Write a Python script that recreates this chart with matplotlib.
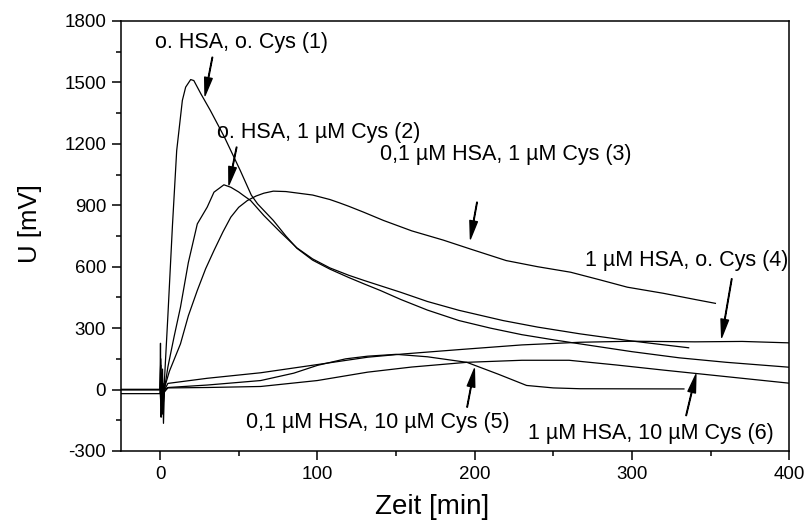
import matplotlib
matplotlib.use("Agg")
import matplotlib.pyplot as plt
from matplotlib.ticker import MultipleLocator

plt.rcParams['font.family'] = ['Liberation Sans', 'DejaVu Sans']
plt.rcParams['axes.unicode_minus'] = False

# Zeit [min] / U [mV] for each measurement
t1 = [-25, 0, 0.3, 0.7, 1.2, 1.8, 2.5, 5, 7.9, 10.6, 14.2, 16.3, 19.5, 21.5, 26, 32, 41, 51, 58, 62,
      72, 80, 87, 97, 108, 120, 130, 140, 153, 170, 190, 210, 230, 250, 267, 300, 330, 360, 400]
u1 = [0, 0, 226, -135, 80, -90, 0, 360, 800, 1167, 1412, 1477, 1514, 1509, 1444, 1363, 1232, 1070, 950, 907,
      826, 750, 690, 632, 588, 547, 515, 484, 440, 388, 337, 300, 268, 243, 223, 185, 155, 133, 109]

t2 = [-25, 0, 0.5, 1.0, 1.6, 2.2, 2.8, 5, 9, 13, 18, 23.7, 30, 34.3, 38, 40.6, 45, 50, 53, 57.6,
      66, 76.6, 87, 97, 108, 120, 130, 153, 170, 190, 218, 240, 267, 300, 336]
u2 = [0, 0, 150, -60, 100, -165, 0, 110, 260, 402, 620, 809, 891, 964, 985, 1000, 988, 965, 948, 923,
      850, 768, 692, 638, 594, 558, 532, 475, 430, 387, 337, 305, 272, 237, 204]

t3 = [-25, 0, 0.4, 0.9, 1.5, 2.0, 2.5, 6, 13, 18, 23.7, 29, 34.3, 40, 45, 50, 55.5, 61, 66, 72, 80,
      87, 97, 108, 114, 120, 129.5, 142, 160, 180, 197, 220, 240, 261, 280, 297, 320, 340, 353]
u3 = [0, 0, 120, -100, 60, -50, 0, 90, 223, 360, 484, 590, 679, 770, 842, 890, 923, 945, 959, 969, 967,
      960, 950, 928, 912, 895, 866, 826, 775, 730, 687, 630, 600, 573, 535, 500, 470, 440, 421]

t4 = [-25, 0, 0.5, 1.2, 2, 3, 5, 30, 64, 100, 132, 155, 190, 230, 267, 300, 340, 370, 400]
u4 = [0, 0, 60, -40, 20, 0, 30, 55, 82, 122, 158, 174, 195, 218, 231, 236, 233, 235, 228]

t5 = [-25, 0, 0.6, 1.4, 2.2, 3, 5, 30, 64, 85, 100, 118, 132, 150, 170, 195, 215, 233, 250, 267, 333]
u5 = [0, 0, -80, 50, -60, 0, 10, 22, 44, 80, 118, 150, 163, 172, 160, 133, 75, 20, 8, 4, 3]

t6 = [-25, 0, 0.8, 1.6, 2.4, 3, 5, 30, 64, 100, 132, 160, 195, 230, 260, 290, 320, 340, 370, 400]
u6 = [-20, -20, 40, -120, 30, -10, 8, 10, 15, 44, 85, 110, 133, 143, 143, 120, 95, 79, 55, 31]

# label text, text position, arrow tail, arrow head
labels = ["o. HSA, o. Cys (1)", "o. HSA, 1 µM Cys (2)", "0,1 µM HSA, 1 µM Cys (3)",
          "1 µM HSA, o. Cys (4)", "0,1 µM HSA, 10 µM Cys (5)", "1 µM HSA, 10 µM Cys (6)"]
label_pos = [(52, 1695), (101, 1257), (219.5, 1148), (335, 630), (138.5, -160), (312, -213)]
arrow_tail = [(33.3, 1623), (48.7, 1184), (201.5, 915), (363.4, 541), (195.2, -86), (334.4, -127)]
arrow_head = [(28.6, 1436), (43.8, 1000), (197.3, 736), (357, 255), (199.8, 101), (340.6, 73)]

fig = plt.figure(figsize=(8.11, 5.21), dpi=100)
ax = fig.add_axes([0.1488, 0.1344, 0.8245, 0.8253])

for t, u in [(t1, u1), (t2, u2), (t3, u3), (t4, u4), (t5, u5), (t6, u6)]:
    ax.plot(t, u, color='black', lw=0.9)

for txt, pos, tail, head in zip(labels, label_pos, arrow_tail, arrow_head):
    ax.text(pos[0], pos[1], txt, ha='center', va='center', fontsize=15.5)
    ax.annotate('', xy=head, xytext=tail,
                arrowprops=dict(facecolor='black', edgecolor='black', width=0.4,
                                headwidth=5.5, headlength=13, shrink=0))

ax.set_xlim(-25, 400)
ax.set_ylim(-300, 1800)
ax.xaxis.set_major_locator(MultipleLocator(100))
ax.xaxis.set_minor_locator(MultipleLocator(50))
ax.yaxis.set_major_locator(MultipleLocator(300))
ax.yaxis.set_minor_locator(MultipleLocator(150))
ax.tick_params(which='major', length=6.5, width=1.1, labelsize=13.5, direction='out', pad=4)
ax.tick_params(which='minor', length=3.6, width=1.1, direction='out')
for s in ax.spines.values():
    s.set_linewidth(1.1)

ax.set_xlabel("Zeit [min]", fontsize=20, va='center')
ax.set_ylabel("U [mV]", fontsize=18.5, va='center')
ax.xaxis.set_label_coords(0.466, -0.1295)
ax.yaxis.set_label_coords(-0.136, 0.53)

fig.savefig("out.png", dpi=100)
